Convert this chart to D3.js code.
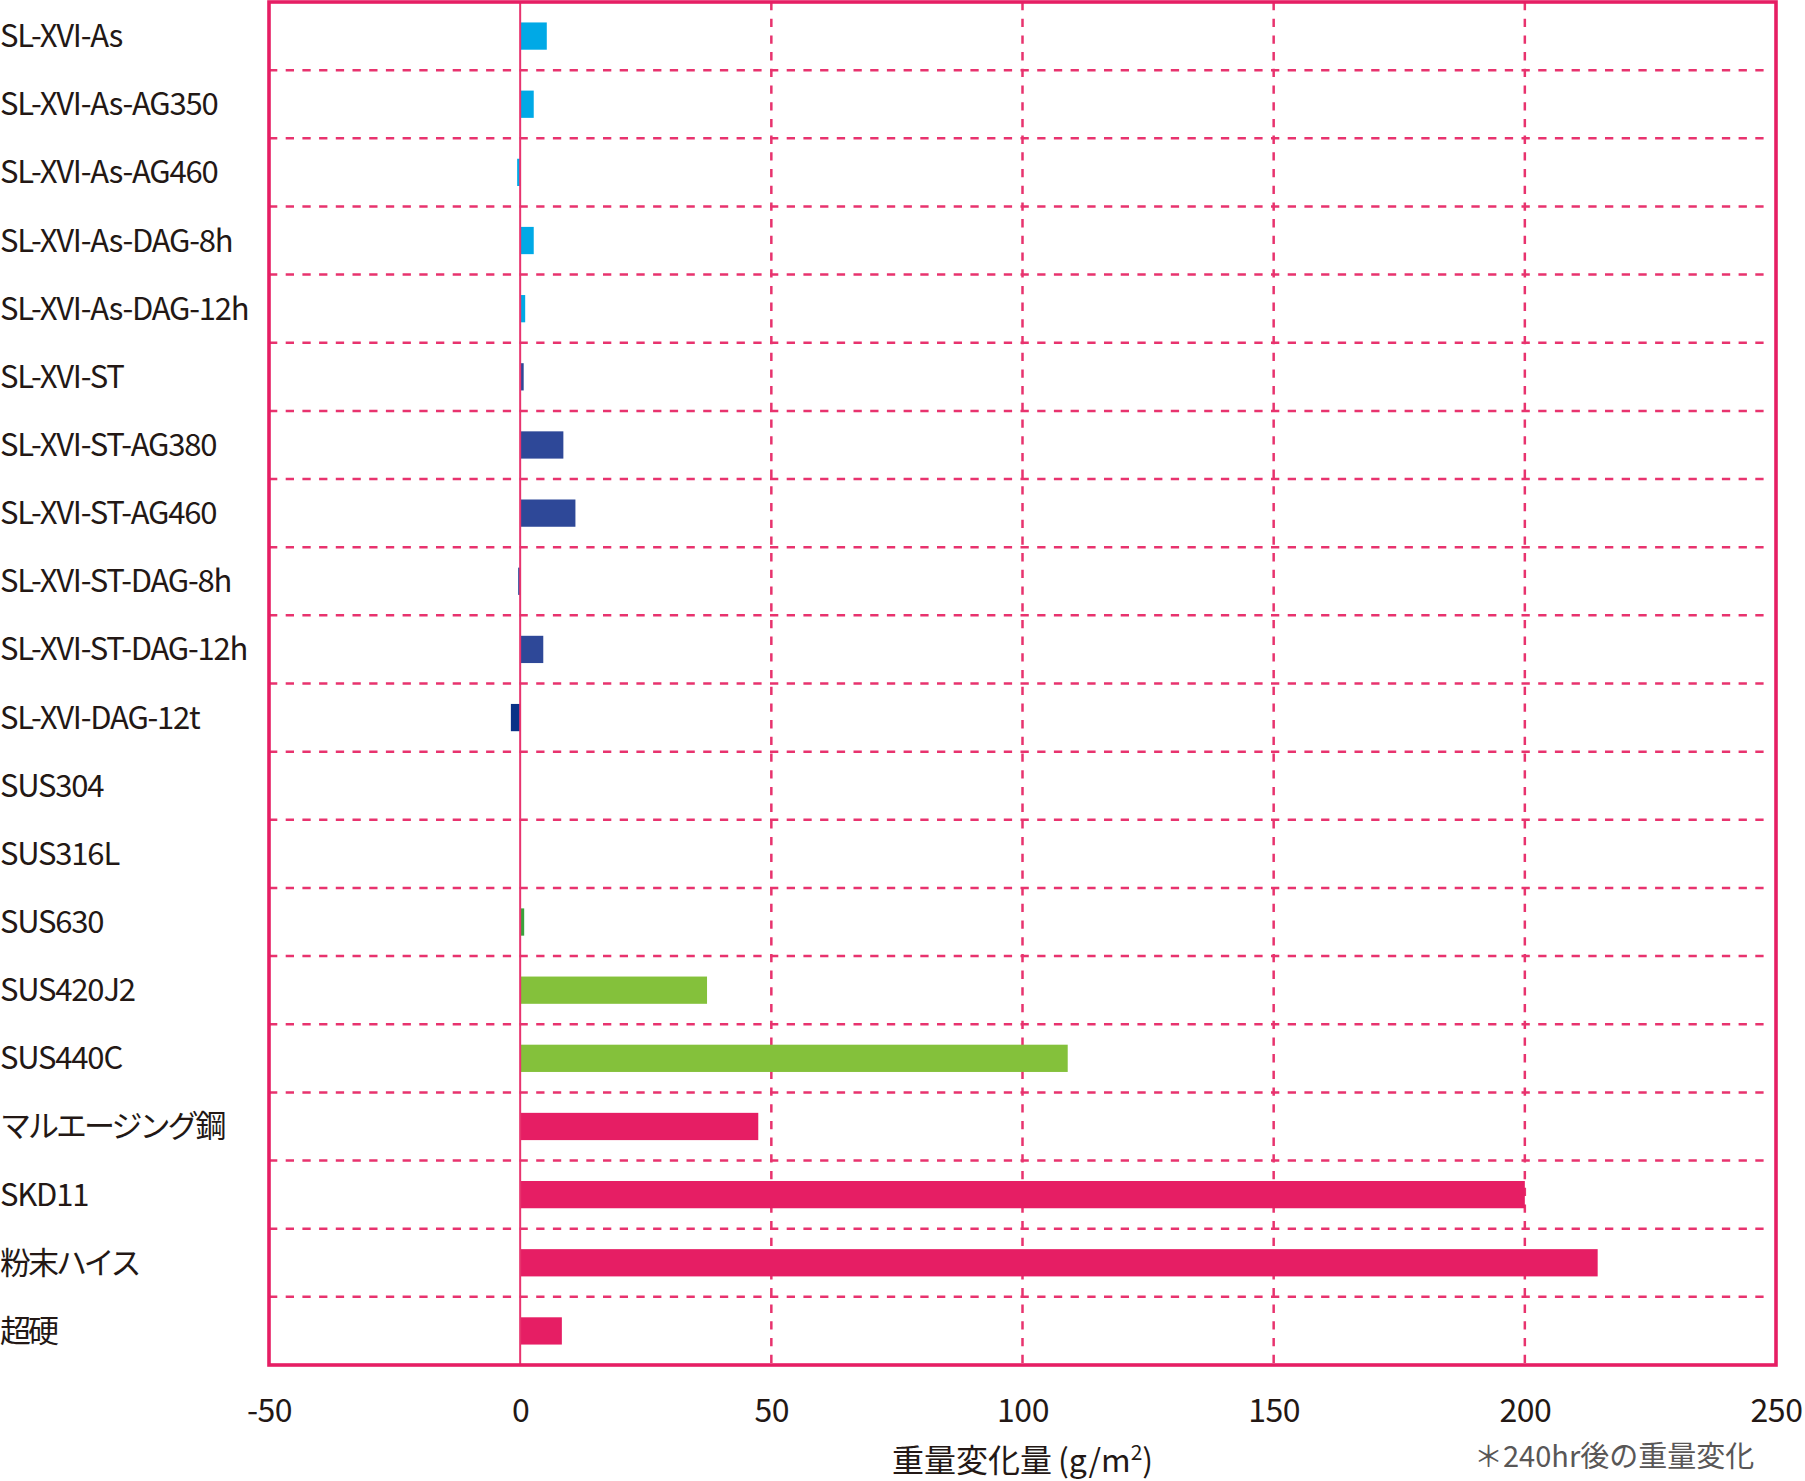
<!DOCTYPE html>
<html>
<head>
<meta charset="utf-8">
<script src="https://cdn.jsdelivr.net/npm/d3@7"></script>
<style>
  body { margin: 0; background: #fff; }
  text { font-family: "Noto Sans CJK JP", "Noto Sans", sans-serif; fill: #231815; }
</style>
</head>
<body>
<div id="chart"></div>
<script>
// materials, top to bottom
const categories = [
    "SL-XVI-As", "SL-XVI-As-AG350", "SL-XVI-As-AG460", "SL-XVI-As-DAG-8h", "SL-XVI-As-DAG-12h",
    "SL-XVI-ST", "SL-XVI-ST-AG380", "SL-XVI-ST-AG460", "SL-XVI-ST-DAG-8h", "SL-XVI-ST-DAG-12h",
    "SL-XVI-DAG-12t", "SUS304", "SUS316L", "SUS630", "SUS420J2",
    "SUS440C", "マルエージング鋼", "SKD11", "粉末ハイス", "超硬"
];

// weight change after 240 hr (g/m2)
const values = [
    5.3, 2.7, -0.6, 2.7, 1.0,
    0.7, 8.6, 11.0, -0.4, 4.6,
    -1.85, 0, 0, 0.8, 37.2,
    109, 47.4, 200, 214.5, 8.3
];

const groups = [
    "as", "as", "as", "as", "as",
    "st", "st", "st", "st", "st",
    "dag", "sus", "sus", "sus630", "sus",
    "sus", "tool", "tool", "tool", "tool"
];

const xTicks = [-50, 0, 50, 100, 150, 200, 250];

const colors = {
    as: "#00a9e6",
    st: "#2e4898",
    dag: "#0a3287",
    sus630: "#3aa33c",
    sus: "#84c13b",
    tool: "#e61e64"
};

const pink = "#e61e64";
const gridPink = "#e8336e";

const width = 1805, height = 1481;
const plotLeft = 269, plotRight = 1776, plotTop = 2, plotBottom = 1365;

const svg = d3.select("#chart").append("svg")
    .attr("width", width)
    .attr("height", height);

svg.append("rect")
    .attr("width", width)
    .attr("height", height)
    .attr("fill", "#fff");

const x = d3.scaleLinear().domain([-50, 250]).range([plotLeft, plotRight]);
const rows = d3.scaleBand().domain(categories).range([plotTop, plotBottom]).padding(0);

// vertical dashed grid
svg.append("g")
    .selectAll("line")
    .data(xTicks.filter(t => t > 0 && t < 250))
    .enter()
    .append("line")
    .attr("x1", d => x(d))
    .attr("x2", d => x(d))
    .attr("y1", plotTop)
    .attr("y2", plotBottom)
    .attr("stroke", gridPink)
    .attr("stroke-width", 2.5)
    .attr("stroke-dasharray", "8.3,8.4");

// horizontal dashed lines between rows
svg.append("g")
    .selectAll("line")
    .data(categories.slice(1))
    .enter()
    .append("line")
    .attr("x1", plotLeft)
    .attr("x2", plotRight - 6)
    .attr("y1", d => rows(d))
    .attr("y2", d => rows(d))
    .attr("stroke", gridPink)
    .attr("stroke-width", 2.5)
    .attr("stroke-dasharray", "8.3,8.4");

// bars
const barH = rows.bandwidth() * 0.4;
svg.append("g")
    .selectAll("rect")
    .data(categories)
    .enter()
    .append("rect")
    .attr("x", (d, i) => x(Math.min(0, values[i])))
    .attr("y", d => rows(d) + (rows.bandwidth() - barH) / 2)
    .attr("width", (d, i) => Math.abs(x(values[i]) - x(0)))
    .attr("height", barH)
    .attr("fill", (d, i) => colors[groups[i]]);

// zero line
svg.append("line")
    .attr("x1", x(0))
    .attr("x2", x(0))
    .attr("y1", plotTop)
    .attr("y2", plotBottom)
    .attr("stroke", gridPink)
    .attr("stroke-width", 2);

// frame
svg.append("rect")
    .attr("x", plotLeft)
    .attr("y", plotTop)
    .attr("width", plotRight - plotLeft)
    .attr("height", plotBottom - plotTop)
    .attr("fill", "none")
    .attr("stroke", pink)
    .attr("stroke-width", 3.6);

// category labels (Japanese ones set a bit tighter)
const isJa = s => /[^\x00-\x7f]/.test(s);
svg.append("g")
    .selectAll("text")
    .data(categories)
    .enter()
    .append("text")
    .attr("x", 0)
    .attr("y", d => rows(d) + rows.bandwidth() / 2 + 11)
    .attr("font-size", 31)
    .attr("letter-spacing", d => isJa(d) ? -3 : -1.2)
    .text(d => d);

// x axis
const xAxis = svg.append("g")
    .attr("transform", `translate(0,${plotBottom})`)
    .call(d3.axisBottom(x).tickValues(xTicks).tickSize(0).tickFormat(d => String(d)));
xAxis.select(".domain").remove();
xAxis.selectAll("text")
    .attr("y", 57)
    .attr("dy", null)
    .attr("font-size", 32)
    .attr("letter-spacing", -0.5)
    .attr("font-family", null)
    .attr("fill", null);

// axis title
const title = svg.append("text")
    .attr("x", x(100))
    .attr("y", 1472)
    .attr("text-anchor", "middle")
    .attr("font-size", 32);
title.append("tspan").text("重量変化量");
title.append("tspan").attr("dx", 6).text("(g/m");
title.append("tspan").attr("font-size", 21).attr("dy", -12).text("2");
title.append("tspan").attr("dy", 12).text(")");

// note
svg.append("text")
    .attr("x", 1474)
    .attr("y", 1467)
    .attr("font-size", 29)
    .style("fill", "#595757")
    .text("＊240hr後の重量変化");
</script>
</body>
</html>
